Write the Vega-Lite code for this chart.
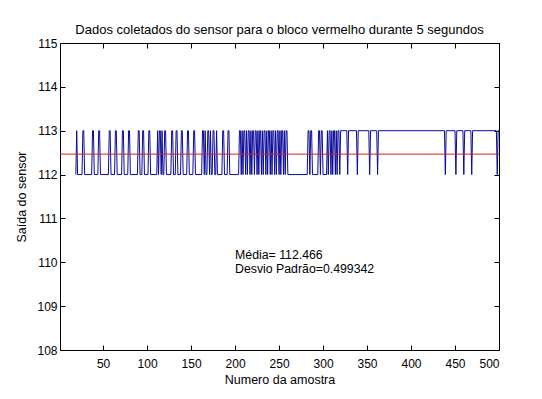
{
  "$schema": "https://vega.github.io/schema/vega-lite/v6.json",
  "width": 439,
  "height": 307,
  "autosize": {"type": "none"},
  "padding": {"left": 60, "top": 43, "right": 43, "bottom": 49},
  "background": "white",
  "config": {
    "view": {"stroke": "black", "strokeWidth": 1},
    "font": "Liberation Sans",
    "axis": {
      "grid": false,
      "domain": false,
      "tickColor": "black",
      "tickSize": -5,
      "labelColor": "black",
      "titleColor": "black",
      "labelFontSize": 12,
      "titleFontSize": 12.5,
      "titleFontWeight": "normal",
      "labelPadding": 9
    }
  },
  "title": {
    "text": "Dados coletados do sensor para o bloco vermelho durante 5 segundos",
    "fontSize": 13,
    "fontWeight": "normal",
    "color": "black",
    "offset": 0
  },
  "datasets": {
    "sensor": [
      {"x":19,"y":112},{"x":20,"y":113},{"x":21,"y":112},{"x":26,"y":112},{"x":27,"y":113},{"x":28,"y":113},{"x":29,"y":112},{"x":37,"y":112},{"x":38,"y":113},{"x":39,"y":113},{"x":40,"y":112},{"x":44,"y":112},{"x":45,"y":113},{"x":46,"y":113},{"x":47,"y":112},{"x":56,"y":112},{"x":57,"y":113},{"x":58,"y":113},{"x":59,"y":112},{"x":63,"y":112},{"x":64,"y":113},{"x":65,"y":113},{"x":66,"y":112},{"x":71,"y":112},{"x":72,"y":113},{"x":73,"y":113},{"x":74,"y":112},{"x":78,"y":112},{"x":79,"y":113},{"x":80,"y":113},{"x":81,"y":112},{"x":89,"y":112},{"x":90,"y":113},{"x":91,"y":113},{"x":92,"y":112},{"x":94,"y":112},{"x":95,"y":113},{"x":96,"y":113},{"x":97,"y":112},{"x":101,"y":112},{"x":102,"y":113},{"x":103,"y":113},{"x":104,"y":112},{"x":111,"y":112},{"x":112,"y":113},{"x":113,"y":112},{"x":114,"y":113},{"x":115,"y":113},{"x":116,"y":112},{"x":117,"y":113},{"x":118,"y":112},{"x":119,"y":112},{"x":120,"y":113},{"x":121,"y":113},{"x":122,"y":112},{"x":127,"y":112},{"x":128,"y":113},{"x":129,"y":113},{"x":130,"y":112},{"x":132,"y":112},{"x":133,"y":113},{"x":134,"y":113},{"x":135,"y":112},{"x":138,"y":112},{"x":139,"y":113},{"x":140,"y":113},{"x":141,"y":112},{"x":145,"y":112},{"x":146,"y":113},{"x":147,"y":113},{"x":148,"y":112},{"x":152,"y":112},{"x":153,"y":113},{"x":154,"y":113},{"x":155,"y":112},{"x":162,"y":112},{"x":163,"y":113},{"x":164,"y":113},{"x":165,"y":112},{"x":166,"y":113},{"x":167,"y":112},{"x":168,"y":112},{"x":169,"y":113},{"x":170,"y":113},{"x":171,"y":112},{"x":172,"y":113},{"x":173,"y":112},{"x":174,"y":112},{"x":175,"y":113},{"x":176,"y":113},{"x":177,"y":112},{"x":178,"y":112},{"x":179,"y":113},{"x":180,"y":112},{"x":185,"y":112},{"x":186,"y":113},{"x":187,"y":113},{"x":188,"y":112},{"x":191,"y":112},{"x":192,"y":113},{"x":193,"y":113},{"x":194,"y":112},{"x":204,"y":112},{"x":205,"y":113},{"x":206,"y":113},{"x":207,"y":112},{"x":208,"y":113},{"x":209,"y":112},{"x":210,"y":113},{"x":211,"y":113},{"x":212,"y":112},{"x":213,"y":113},{"x":214,"y":112},{"x":215,"y":113},{"x":216,"y":113},{"x":217,"y":112},{"x":218,"y":113},{"x":219,"y":112},{"x":220,"y":113},{"x":221,"y":113},{"x":222,"y":112},{"x":223,"y":113},{"x":224,"y":113},{"x":225,"y":112},{"x":226,"y":113},{"x":227,"y":112},{"x":228,"y":113},{"x":229,"y":113},{"x":230,"y":112},{"x":231,"y":113},{"x":232,"y":112},{"x":233,"y":113},{"x":234,"y":113},{"x":235,"y":112},{"x":236,"y":113},{"x":237,"y":112},{"x":238,"y":113},{"x":239,"y":113},{"x":240,"y":112},{"x":241,"y":113},{"x":242,"y":112},{"x":243,"y":113},{"x":244,"y":113},{"x":245,"y":112},{"x":246,"y":113},{"x":247,"y":112},{"x":248,"y":113},{"x":249,"y":113},{"x":250,"y":112},{"x":251,"y":113},{"x":252,"y":112},{"x":253,"y":113},{"x":254,"y":113},{"x":255,"y":112},{"x":256,"y":113},{"x":257,"y":112},{"x":258,"y":113},{"x":259,"y":113},{"x":260,"y":112},{"x":282,"y":112},{"x":283,"y":113},{"x":284,"y":113},{"x":285,"y":112},{"x":286,"y":113},{"x":287,"y":113},{"x":288,"y":112},{"x":294,"y":112},{"x":295,"y":113},{"x":296,"y":113},{"x":297,"y":112},{"x":298,"y":113},{"x":299,"y":113},{"x":300,"y":112},{"x":304,"y":112},{"x":305,"y":113},{"x":306,"y":112},{"x":307,"y":113},{"x":308,"y":113},{"x":309,"y":112},{"x":310,"y":113},{"x":311,"y":112},{"x":312,"y":113},{"x":313,"y":113},{"x":314,"y":112},{"x":315,"y":113},{"x":316,"y":112},{"x":317,"y":113},{"x":318,"y":113},{"x":319,"y":112},{"x":320,"y":113},{"x":327,"y":113},{"x":328,"y":112},{"x":329,"y":113},{"x":338,"y":113},{"x":339,"y":112},{"x":340,"y":113},{"x":352,"y":113},{"x":353,"y":112},{"x":354,"y":113},{"x":361,"y":113},{"x":362,"y":112},{"x":363,"y":113},{"x":438,"y":113},{"x":439,"y":112},{"x":440,"y":113},{"x":450,"y":113},{"x":451,"y":112},{"x":452,"y":113},{"x":459,"y":113},{"x":460,"y":112},{"x":461,"y":113},{"x":468,"y":113},{"x":469,"y":112},{"x":470,"y":113},{"x":497,"y":113},{"x":498,"y":112},{"x":499,"y":113},{"x":500,"y":113}
    ],
    "mean": [{"x": 1, "y": 112.466}, {"x": 500, "y": 112.466}],
    "notes": [{"x": 200, "y": 110, "label": ["Média= 112.466", "Desvio Padrão=0.499342"]}]
  },
  "layer": [
    {
      "data": {"name": "sensor"},
      "mark": {"type": "line", "color": "#0a0a9a", "strokeWidth": 1},
      "encoding": {
        "x": {"field": "x", "type": "quantitative", "scale": {"domain": [1, 500], "nice": false, "zero": false},
              "axis": {"orient": "bottom", "values": [50,100,150,200,250,300,350,400,450,500], "title": "Numero da amostra", "titlePadding": 4, "labelPadding": 13}},
        "y": {"field": "y", "type": "quantitative", "scale": {"domain": [108, 115], "nice": false, "zero": false},
              "axis": {"orient": "left", "values": [108,109,110,111,112,113,114,115], "title": "Saída do sensor", "titlePadding": 8, "labelPadding": 8}}
      }
    },
    {
      "data": {"name": "mean"},
      "mark": {"type": "line", "color": "#d42020", "strokeWidth": 1},
      "encoding": {
        "x": {"field": "x", "type": "quantitative", "scale": {"domain": [1, 500], "nice": false, "zero": false},
              "axis": {"orient": "top", "values": [50,100,150,200,250,300,350,400,450,500], "labels": false, "title": null}},
        "y": {"field": "y", "type": "quantitative", "scale": {"domain": [108, 115], "nice": false, "zero": false},
              "axis": {"orient": "right", "values": [108,109,110,111,112,113,114,115], "labels": false, "title": null}}
      }
    },
    {
      "data": {"name": "notes"},
      "mark": {"type": "text", "align": "left", "baseline": "middle", "fontSize": 12.3, "lineHeight": 14, "dy": -7, "color": "black"},
      "encoding": {
        "x": {"field": "x", "type": "quantitative", "scale": {"domain": [1, 500], "nice": false, "zero": false}, "axis": null},
        "y": {"field": "y", "type": "quantitative", "scale": {"domain": [108, 115], "nice": false, "zero": false}, "axis": null},
        "text": {"field": "label"}
      }
    }
  ],
  "resolve": {"axis": {"x": "independent", "y": "independent"}}
}
